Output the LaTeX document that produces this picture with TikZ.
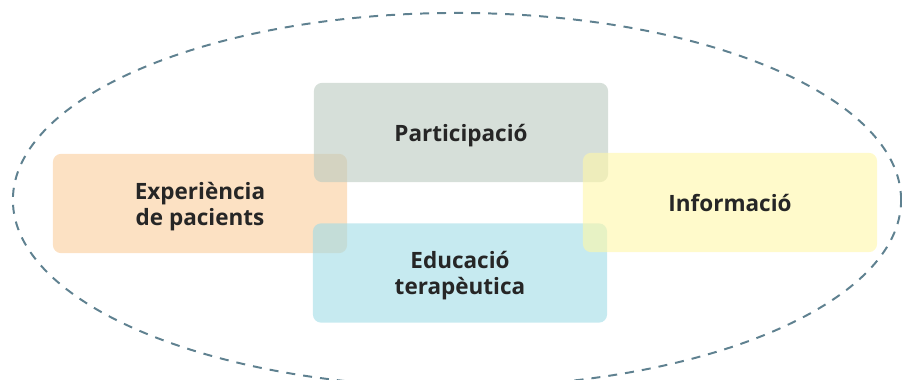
\documentclass[tikz,border=0pt]{standalone}
\usepackage{fontspec}
\setmainfont{Open Sans}
\usepackage{tikz}
\usetikzlibrary{positioning}

\definecolor{ringgray}{RGB}{95,129,144}
\definecolor{expcol}{RGB}{250,205,155}
\definecolor{partcol}{RGB}{187,202,192}
\definecolor{educol}{RGB}{160,220,230}
\definecolor{infocol}{RGB}{255,247,168}

\begin{document}
\begin{tikzpicture}[x=0.025cm,y=-0.025cm,
  area/.style={rounded corners=0.2cm,minimum width=7.35cm,minimum height=2.48cm,
    fill opacity=0.6,text opacity=1,align=center,inner sep=0pt,text depth=0pt,
    font=\fontsize{16}{18.5}\selectfont\bfseries,text=black!85},
  ring/.style={draw=ringgray,line width=1.4pt,dash pattern=on 6.4pt off 5.7pt}]
  \useasboundingbox (0,0) rectangle (902,380);
  \draw[ring] (457,200) ellipse [x radius=11.1cm,y radius=4.675cm];
  \node[area,fill=expcol] (exp) at (200,203.5) {Experiència\\de pacients};
  \node[area,fill=partcol] (part) at (461,132.5) {Participació};
  \node[area,fill=educol] (edu) at (460,273) {Educació\\terapèutica};
  \node[area,fill=infocol] (info) at (730,202.5) {Informació};
\end{tikzpicture}
\end{document}
